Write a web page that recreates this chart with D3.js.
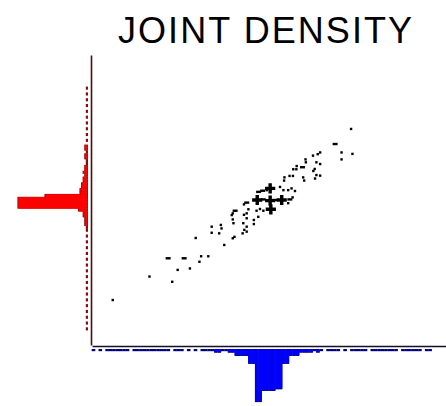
<!DOCTYPE html>
<html>
<head>
<meta charset="utf-8">
<script src="https://cdn.jsdelivr.net/npm/d3@7"></script>
<style>
  html, body { margin: 0; padding: 0; background: #fff; }
  svg { display: block; }
</style>
</head>
<body>
<svg id="chart" width="446" height="406"></svg>
<script>
// ---- data ----
const chartTitle = "JOINT DENSITY";

// sample points (x, y) and how many observations sit on each spot
const pointX = [7.62, 7.15, 7.34, 7.66, 7.34, 6.71, 6.64, 6.50, 6.28, 6.29,
                6.60, 6.71, 6.02, 6.19, 5.92, 6.01, 6.55, 6.51, 6.60, 6.71,
                6.56, 5.81, 5.91, 5.66, 5.65, 6.21, 6.24, 5.24, 5.14, 5.02,
                4.90, 5.53, 5.63, 5.77, 5.87, 5.97, 5.90, 5.82, 4.86, 5.24,
                5.58, 5.04, 5.38, 4.55, 4.47, 5.26, 5.04, 4.94, 4.84, 4.60,
                4.55, 4.47, 4.21, 4.14, 4.11, 4.76, 4.55, 4.45, 4.55, 4.76,
                4.89, 4.14, 4.16, 4.48, 4.43, 4.55, 4.19, 4.14, 3.79, 3.52,
                3.81, 3.52, 3.74, 3.89, 3.05, 3.21, 3.42, 3.16, 2.71, 2.24,
                2.88, 2.52, 2.36, 1.69, 0.61, 5.77];
const pointY = [7.45, 6.93, 6.64, 6.59, 6.40, 6.64, 6.58, 6.53, 6.40, 6.30,
                6.30, 6.24, 6.17, 6.13, 6.06, 6.06, 6.07, 6.00, 5.86, 5.84,
                5.74, 5.83, 5.83, 5.78, 5.67, 5.78, 5.67, 5.40, 5.34, 5.32,
                5.28, 5.45, 5.34, 5.34, 5.40, 5.31, 5.09, 5.02, 5.00, 4.98,
                5.00, 5.02, 5.00, 4.91, 4.85, 4.68, 4.63, 4.69, 4.63, 4.68,
                4.54, 4.49, 4.63, 4.54, 4.48, 4.31, 4.37, 4.20, 4.08, 4.17,
                4.42, 4.33, 4.20, 3.97, 3.85, 3.91, 3.73, 3.68, 4.14, 4.08,
                4.02, 3.87, 3.85, 3.45, 3.69, 3.06, 3.06, 2.87, 2.99, 2.99,
                2.64, 2.59, 2.18, 2.36, 1.55, 4.89];
const pointWeight = [1, 2, 1, 1, 1, 1, 1, 1, 1, 1,
                     1, 1, 1, 2, 1, 1, 1, 1, 1, 1,
                     1, 1, 1, 1, 1, 1, 1, 3, 1, 2,
                     2, 1, 1, 1, 1, 1, 1, 2, 3, 3,
                     3, 2, 2, 2, 1, 3, 1, 1, 1, 1,
                     1, 1, 2, 1, 1, 1, 1, 1, 1, 1,
                     1, 1, 1, 1, 1, 1, 1, 1, 1, 1,
                     1, 1, 1, 1, 1, 1, 1, 1, 2, 2,
                     1, 1, 1, 1, 1, 1];

// marginal histograms, bins of equal width starting at 0
const binWidth = 0.1;
const xBinCounts = [1, 0, 1, 0, 1, 1, 1, 1, 1, 1,
                    1, 0, 1, 1, 1, 1, 1, 1, 1, 1,
                    1, 1, 1, 0, 1, 1, 1, 0, 1, 0,
                    1, 0, 1, 1, 1, 1, 2, 2, 1, 1,
                    2, 2, 4, 4, 4, 4, 9, 9, 33, 33,
                    26, 26, 26, 26, 25, 25, 9, 9, 4, 4,
                    4, 2, 2, 2, 2, 1, 2, 1, 0, 1,
                    1, 1, 1, 0, 1, 0, 1, 1, 1, 1,
                    1, 0, 1, 1, 1, 1, 1, 1, 1, 1,
                    0, 1, 1, 1, 1, 1, 1, 0, 1, 1];
const yBinCounts = [0, 0, 0, 0, 0, 1, 0, 1, 0, 1,
                    0, 1, 0, 1, 0, 1, 0, 1, 0, 1,
                    0, 1, 0, 1, 0, 1, 0, 1, 0, 1,
                    0, 1, 0, 1, 0, 1, 0, 1, 0, 1,
                    1, 2, 2, 2, 3, 3, 6, 44, 44, 44,
                    44, 27, 5, 5, 4, 4, 3, 3, 2, 3,
                    2, 2, 1, 1, 2, 2, 1, 2, 2, 0,
                    1, 0, 1, 0, 1, 0, 1, 0, 1, 0,
                    1, 0, 1, 0, 1, 0, 1, 0, 1, 0];

// ---- drawing ----
const svg = d3.select("#chart");
svg.append("rect").attr("width", 446).attr("height", 406).attr("fill", "#fff");

const x = d3.scaleLinear().domain([0, 10.4]).range([92, 445.6]);
const y = d3.scaleLinear().domain([0, 10]).range([345, 55]);
const barLen = d3.scaleLinear().domain([0, 44]).range([0, 70]);

const xHistBase = 349;   // top edge of the lower histogram
const yHistBase = 88;    // right edge of the left histogram

const xBins = xBinCounts.map((c, i) => ({ c, x0: i * binWidth, x1: (i + 1) * binWidth })).filter(d => d.c > 0);
const yBins = yBinCounts.map((c, i) => ({ c, y0: i * binWidth, y1: (i + 1) * binWidth })).filter(d => d.c > 0);

// lower histogram (x margin): dark edge layer then bright fill
const gx = svg.append("g");
gx.selectAll("rect.edge").data(xBins).join("rect")
  .attr("class", "edge")
  .attr("x", d => x(d.x0) - 0.3)
  .attr("width", d => x(d.x1) - x(d.x0) + 0.2)
  .attr("y", xHistBase)
  .attr("height", d => barLen(d.c) + 0.6)
  .attr("fill", "#000080");
gx.selectAll("rect.fill").data(xBins.filter(d => d.c >= 2)).join("rect")
  .attr("class", "fill")
  .attr("x", d => x(d.x0))
  .attr("width", d => x(d.x1) - x(d.x0))
  .attr("y", xHistBase + 0.6)
  .attr("height", d => Math.max(0, barLen(d.c) - 0.9))
  .attr("fill", "#0000ff");

// left histogram (y margin)
const gy = svg.append("g");
gy.selectAll("rect.edge").data(yBins).join("rect")
  .attr("class", "edge")
  .attr("x", d => yHistBase - barLen(d.c) - 0.6)
  .attr("width", d => barLen(d.c) + 0.6)
  .attr("y", d => y(d.y1) - 0.3)
  .attr("height", d => y(d.y0) - y(d.y1) + 0.2)
  .attr("fill", "#8b0a0a");
gy.selectAll("rect.fill").data(yBins.filter(d => d.c >= 2)).join("rect")
  .attr("class", "fill")
  .attr("x", d => yHistBase - barLen(d.c) + 0.3)
  .attr("width", d => Math.max(0, barLen(d.c) - 0.9))
  .attr("y", d => y(d.y1))
  .attr("height", d => y(d.y0) - y(d.y1))
  .attr("fill", "#ff0000");

// axes: bare lines, no ticks
const axX = svg.append("g").attr("transform", "translate(0,346)")
  .call(d3.axisBottom(x).tickValues([]).tickSizeOuter(0));
axX.select(".domain").attr("stroke", "#111122").attr("stroke-width", 1.6);

const axY = svg.append("g").attr("transform", "translate(91,0)")
  .call(d3.axisLeft(y).tickValues([]).tickSizeOuter(0));
axY.select(".domain").attr("stroke", "#4a1010").attr("stroke-width", 1.6);

// scatter
const pts = pointX.map((px, i) => ({ px, py: pointY[i], w: pointWeight[i] }));
const gp = svg.append("g").attr("fill", "#000");
gp.selectAll("rect").data(pts.filter(d => d.w < 3)).join("rect")
  .attr("x", d => x(d.px) - (d.w === 2 ? 2.5 : 1.2))
  .attr("y", d => y(d.py) - 1.2)
  .attr("width", d => d.w === 2 ? 5 : 2.4)
  .attr("height", 2.4);
gp.selectAll("path").data(pts.filter(d => d.w >= 3)).join("path")
  .attr("transform", d => `translate(${x(d.px)},${y(d.py)})`)
  .attr("d", d3.symbol(d3.symbolCross).size(58));

// title
svg.append("text")
  .attr("x", 265).attr("y", 43)
  .attr("text-anchor", "middle")
  .attr("font-family", "'Liberation Sans', Arial, sans-serif")
  .attr("font-size", 36)
  .attr("textLength", 294)
  .attr("lengthAdjust", "spacing")
  .attr("fill", "#000")
  .text(chartTitle);
</script>
</body>
</html>
